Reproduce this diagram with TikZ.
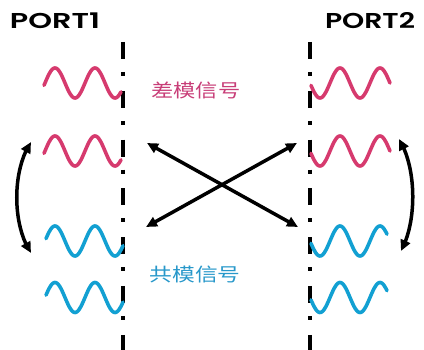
\documentclass[tikz,border=0pt]{standalone}
\usepackage{fontspec}
\usepackage{graphicx}
\usetikzlibrary{arrows.meta,bending}
\newfontfamily\cjk{Noto Sans CJK SC}
\newfontfamily\portfont{Poppins}[UprightFont=* SemiBold]
\definecolor{wpink}{RGB}{214,58,110}
\definecolor{wblue}{RGB}{18,160,210}
\definecolor{tpink}{RGB}{200,62,120}
\definecolor{tblue}{RGB}{40,152,202}
\begin{document}
\begin{tikzpicture}[x=1pt,y=-1pt,
  axisline/.style={black,line width=4pt,dash pattern=on 17pt off 13pt on 4pt off 14.8pt},
  wavepink/.style={wpink,line width=3.6pt,line cap=round},
  waveblue/.style={wblue,line width=3.6pt,line cap=round},
  dblarrow/.style={{Triangle[length=11pt,width=10pt]}-{Triangle[length=11pt,width=10pt]},line width=3.5pt,black},
  porttext/.style={inner sep=0pt,font=\fontsize{21.5pt}{24pt}\selectfont\portfont},
  cjktext/.style={inner sep=0pt,font=\fontsize{18.5pt}{20pt}\selectfont\cjk}
]
\useasboundingbox (0,0) rectangle (424,350);

% port labels
\node[porttext] (p1) at (55,20.5) {\resizebox{90pt}{\height}{PORT1}};
\node[porttext] (p2) at (370,20.5) {\resizebox{90pt}{\height}{PORT2}};

% dash-dot planes
\coordinate (l1t) at (123,42);
\coordinate (l1b) at (123,352);
\coordinate (l2t) at (310,42);
\coordinate (l2b) at (310,352);
\draw[axisline] (l1t) -- (l1b);
\draw[axisline] (l2t) -- (l2b);

% left waves
\draw[wavepink] plot[domain=44:121,samples=80,smooth] (\x,{83-15*sin(9*(\x-45))});
\draw[wavepink] plot[domain=44:121,samples=80,smooth] (\x,{151-15*sin(9*(\x-45))});
\draw[waveblue] plot[domain=46:123,samples=80,smooth] (\x,{241-15*sin(9*(\x-45))});
\draw[waveblue] plot[domain=46:123,samples=80,smooth] (\x,{297.5-15*sin(9*(\x-45))});

% right waves
\draw[wavepink] plot[domain=311:390,samples=80,smooth] (\x,{83-15*sin(9*(\x-330))});
\draw[wavepink] plot[domain=311:390,samples=80,smooth] (\x,{151-15*sin(9*(\x-330))});
\draw[waveblue] plot[domain=311:387,samples=80,smooth] (\x,{241-15*sin(9*(\x-330))});
\draw[waveblue] plot[domain=311:387,samples=80,smooth] (\x,{297.5-15*sin(9*(\x-330))});

% labels
\node[cjktext,text=tpink] (dm) at (196,90) {\resizebox{89pt}{\height}{差模信号}};
\node[cjktext,text=tblue] (cm) at (195,274) {\resizebox{91pt}{\height}{共模信号}};

% cross arrows
\coordinate (xtl) at (147,143);
\coordinate (xbr) at (298,227);
\coordinate (xtr) at (297,143);
\coordinate (xbl) at (146,227);
\draw[dblarrow] (xtl) -- (xbr);
\draw[dblarrow] (xtr) -- (xbl);

% curved arrows
\coordinate (cl1) at (31,142);
\coordinate (cl2) at (31,253);
\coordinate (cr1) at (399,139);
\coordinate (cr2) at (401,251);
\draw[dblarrow] (cl1) .. controls (12,170) and (12,225) .. (cl2);
\draw[dblarrow] (cr1) .. controls (417,168) and (417,222) .. (cr2);
\end{tikzpicture}
\end{document}
